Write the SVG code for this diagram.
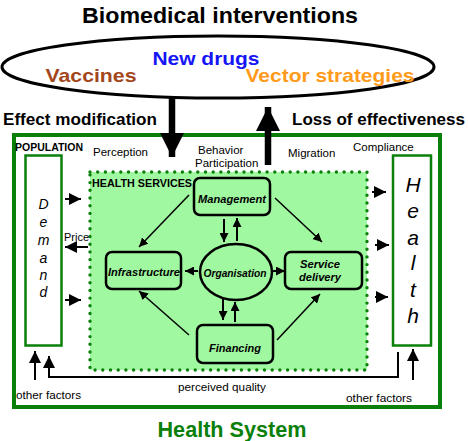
<svg xmlns="http://www.w3.org/2000/svg" width="468" height="441" viewBox="0 0 468 441">
<defs>
<style>
text{font-family:"Liberation Sans",Arial,sans-serif;fill:#000}
.b{font-weight:bold}
.lbl{font-size:11.5px}
.node{fill:#a0f8a0;stroke:#000;stroke-width:2.5}
.bi{font-weight:bold;font-style:italic;font-size:11px}
.col{fill:#fff;stroke:#0a800a;stroke-width:2.5}
.vl{font-style:italic}
.ln{stroke:#000;stroke-width:1.5;fill:none}
.ln2{stroke:#000;stroke-width:2;fill:none}
</style>
<marker id="ah" viewBox="0 0 10 10" refX="10" refY="5" markerWidth="9" markerHeight="9" markerUnits="userSpaceOnUse" orient="auto"><path d="M0,0 L10,5 L0,10 z" fill="#000"/></marker>
<marker id="ahb" viewBox="0 0 10 10" refX="10" refY="5" markerWidth="12" markerHeight="12" markerUnits="userSpaceOnUse" orient="auto"><path d="M0,0 L10,5 L0,10 z" fill="#000"/></marker>
<marker id="ahbig" viewBox="0 0 10 10" refX="10" refY="5" markerWidth="24" markerHeight="24" markerUnits="userSpaceOnUse" orient="auto"><path d="M0,0 L10,5 L0,10 z" fill="#000"/></marker>
</defs>
<rect width="468" height="441" fill="#fff"/>

<g id="title">
<text x="220" y="23" text-anchor="middle" class="b" font-size="22.5" textLength="276" lengthAdjust="spacingAndGlyphs">Biomedical interventions</text>
</g>

<g id="biomedical">
<ellipse cx="218" cy="67" rx="216" ry="31" fill="#fff" stroke="#000" stroke-width="3"/>
<text x="206" y="65" text-anchor="middle" class="b" font-size="19" style="fill:#1515f5" textLength="107" lengthAdjust="spacingAndGlyphs">New drugs</text>
<text x="91" y="82" text-anchor="middle" class="b" font-size="19" style="fill:#a3471c" textLength="91" lengthAdjust="spacingAndGlyphs">Vaccines</text>
<text x="330" y="82" text-anchor="middle" class="b" font-size="19" style="fill:#ff9a1a" textLength="169" lengthAdjust="spacingAndGlyphs">Vector strategies</text>
</g>

<g id="health-system">
<rect x="14" y="135" width="426" height="272" fill="none" stroke="#0a800a" stroke-width="4"/>
<text x="232" y="437" text-anchor="middle" class="b" font-size="22" style="fill:#0a800a" textLength="149" lengthAdjust="spacingAndGlyphs">Health System</text>
<text x="15" y="151" class="b" font-size="10" textLength="68" lengthAdjust="spacingAndGlyphs">POPULATION</text>
</g>

<g id="health-services">
<rect x="90" y="172" width="277" height="198" fill="#a0f8a0" stroke="#0a800a" stroke-width="3.4" stroke-dasharray="0 7.7" stroke-linecap="round"/>
<text x="92" y="187" class="b" font-size="10.5" textLength="100" lengthAdjust="spacingAndGlyphs">HEALTH SERVICES</text>
</g>

<g id="demand">
<rect x="25.5" y="155.5" width="36" height="190" class="col"/>
<g class="vl" font-size="14" text-anchor="middle">
<text x="43.5" y="209">D</text>
<text x="43.5" y="227">e</text>
<text x="43.5" y="245">m</text>
<text x="43.5" y="263">a</text>
<text x="43.5" y="280">n</text>
<text x="43.5" y="297">d</text>
</g>
</g>

<g id="health">
<rect x="393" y="155.5" width="38" height="190" class="col"/>
<g class="vl" font-size="21" text-anchor="middle">
<text x="413" y="192">H</text>
<text x="413" y="218">e</text>
<text x="413" y="245">a</text>
<text x="413" y="270">l</text>
<text x="413" y="297">t</text>
<text x="413" y="323">h</text>
</g>
</g>

<g id="management">
<rect x="194" y="178" width="76" height="37" rx="6" class="node"/>
<text x="232" y="203" text-anchor="middle" class="bi" textLength="68" lengthAdjust="spacingAndGlyphs">Management</text>
</g>

<g id="infrastructure">
<rect x="106" y="252" width="75" height="37" rx="6" class="node"/>
<text x="144" y="276" text-anchor="middle" class="bi" textLength="72" lengthAdjust="spacingAndGlyphs">Infrastructure</text>
</g>

<g id="organisation">
<ellipse cx="236" cy="272" rx="36" ry="28" class="node"/>
<text x="235" y="277" text-anchor="middle" class="bi" textLength="63" lengthAdjust="spacingAndGlyphs">Organisation</text>
</g>

<g id="service-delivery">
<rect x="285" y="252" width="77" height="37" rx="6" class="node"/>
<text x="320" y="268" text-anchor="middle" class="bi" textLength="40" lengthAdjust="spacingAndGlyphs">Service</text>
<text x="320" y="281" text-anchor="middle" class="bi" textLength="42" lengthAdjust="spacingAndGlyphs">delivery</text>
</g>

<g id="financing">
<rect x="197" y="325" width="76" height="38" rx="6" class="node"/>
<text x="235" y="352" text-anchor="middle" class="bi" textLength="52" lengthAdjust="spacingAndGlyphs">Financing</text>
</g>

<g id="connectors">
<line x1="172" y1="97" x2="172" y2="157" stroke="#000" stroke-width="6.5" marker-end="url(#ahbig)"/>
<line x1="268" y1="165" x2="268" y2="107" stroke="#000" stroke-width="6.5" marker-end="url(#ahbig)"/>
<line x1="189" y1="195" x2="139" y2="247" class="ln" marker-end="url(#ah)"/>
<line x1="275" y1="198" x2="322" y2="242" class="ln" marker-end="url(#ah)"/>
<line x1="189" y1="335" x2="139" y2="291" class="ln" marker-end="url(#ah)"/>
<line x1="277" y1="340" x2="320" y2="294" class="ln" marker-end="url(#ah)"/>
<line x1="224" y1="219" x2="224" y2="242" class="ln2" marker-end="url(#ah)"/>
<line x1="237" y1="241" x2="237" y2="218" class="ln2" marker-end="url(#ah)"/>
<line x1="223" y1="299" x2="223" y2="320" class="ln2" marker-end="url(#ah)"/>
<line x1="235" y1="322" x2="235" y2="302" class="ln2" marker-end="url(#ah)"/>
<line x1="198" y1="271" x2="185" y2="271" class="ln2" marker-end="url(#ah)"/>
<line x1="272" y1="271" x2="285" y2="271" class="ln2" marker-end="url(#ah)"/>
<line x1="65" y1="199" x2="81" y2="199" class="ln2" marker-end="url(#ahb)"/>
<line x1="88" y1="247" x2="65" y2="247" class="ln2" marker-end="url(#ahb)"/>
<line x1="65" y1="300" x2="81" y2="300" class="ln2" marker-end="url(#ahb)"/>
<line x1="372" y1="192" x2="386" y2="192" class="ln2" marker-end="url(#ahb)"/>
<line x1="375" y1="245" x2="389" y2="245" class="ln2" marker-end="url(#ahb)"/>
<line x1="375" y1="297" x2="388" y2="297" class="ln2" marker-end="url(#ahb)"/>
<line x1="35" y1="380" x2="35" y2="351" class="ln2" marker-end="url(#ahb)"/>
<polyline points="398,352 398,377 49,377 49,356" class="ln2" marker-end="url(#ahb)"/>
<line x1="413" y1="380" x2="413" y2="349" class="ln2" marker-end="url(#ahb)"/>
</g>

<g id="labels">
<text x="3" y="125" class="b" font-size="16" textLength="154" lengthAdjust="spacingAndGlyphs">Effect modification</text>
<text x="292" y="125" class="b" font-size="16" textLength="173" lengthAdjust="spacingAndGlyphs">Loss of effectiveness</text>
<text x="93" y="156" class="lbl">Perception</text>
<text x="198" y="154" class="lbl">Behavior</text>
<text x="195" y="167" class="lbl">Participation</text>
<text x="288" y="157" class="lbl">Migration</text>
<text x="353" y="151" class="lbl">Compliance</text>
<text x="64" y="241" font-size="11">Price</text>
<text x="178" y="391" font-size="11" textLength="88" lengthAdjust="spacingAndGlyphs">perceived quality</text>
<text x="16" y="399" font-size="11" textLength="65" lengthAdjust="spacingAndGlyphs">other factors</text>
<text x="346" y="402" font-size="11" textLength="66" lengthAdjust="spacingAndGlyphs">other factors</text>
</g>
</svg>
